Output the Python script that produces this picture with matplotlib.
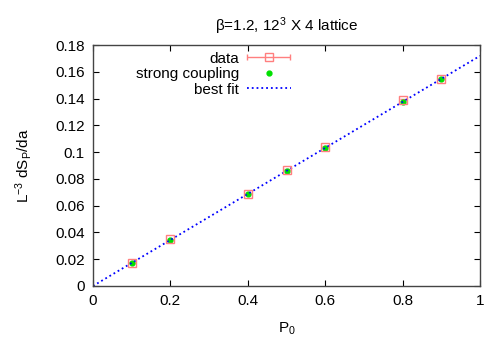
import numpy as np
import matplotlib
matplotlib.use("Agg")
import matplotlib.pyplot as plt
from matplotlib.legend_handler import HandlerErrorbar
from matplotlib.ticker import FuncFormatter

plt.rcParams['font.family'] = ['Liberation Sans', 'DejaVu Sans']
plt.rcParams['mathtext.fontset'] = 'custom'
plt.rcParams['mathtext.rm'] = 'Liberation Sans'
plt.rcParams['mathtext.it'] = 'Liberation Sans:italic'

# data
p0 = [0.1, 0.2, 0.4, 0.5, 0.6, 0.8, 0.9]
ds_data = [0.0175, 0.0350, 0.0690, 0.0870, 0.1040, 0.1390, 0.1550]
ds_err = [0.0004, 0.0004, 0.0004, 0.0005, 0.0005, 0.0006, 0.0006]
ds_strong = [0.0170, 0.0342, 0.0688, 0.0860, 0.1030, 0.1372, 0.1545]
fit_slope = 0.172
fit_x = [0.0, 1.0]

fig = plt.figure(figsize=(5, 3.5), dpi=100)
ax = fig.add_axes([0.186, 0.183, 0.774, 0.688])

red = '#ff7f7f'
green = '#00e000'

ax.errorbar(p0, ds_data, yerr=ds_err, fmt='s', mfc='none', mec=red, ecolor=red,
            ms=6, mew=1.0, elinewidth=1.0, capsize=2)
ax.plot(p0, ds_strong, 'o', color=green, ms=3.5, mec=green)
ax.plot(fit_x, [fit_slope * x for x in fit_x], ':', color='blue', lw=1.3)

# legend proxies (gnuplot style: horizontal error bar in key)
h_data = ax.errorbar([np.nan], [np.nan], xerr=[1], fmt='s', mfc='none', mec=red,
                     ecolor=red, ms=6, mew=1.0, elinewidth=1.0, capsize=2)
h_strong, = ax.plot([np.nan], [np.nan], 'o', color=green, ms=3.5, mec=green)
h_fit, = ax.plot([np.nan], [np.nan], ':', color='blue', lw=1.3)
ax.legend([h_data, h_strong, h_fit], ['data', 'strong coupling', 'best fit'],
          loc='upper left', bbox_to_anchor=(0.083, 1.017), markerfirst=False,
          frameon=False, fontsize=11, handlelength=2.9, handletextpad=0.5,
          labelspacing=0.1, borderaxespad=0.3,
          handler_map={type(h_data): HandlerErrorbar(xerr_size=1.4)})

ax.set_xlim(0, 1)
ax.set_ylim(0, 0.18)
ax.set_xticks(np.arange(0, 1.01, 0.2))
ax.set_yticks(np.arange(0, 0.181, 0.02))
ax.xaxis.set_major_formatter(FuncFormatter(lambda v, p: '%g' % round(v, 3)))
ax.yaxis.set_major_formatter(FuncFormatter(lambda v, p: '%g' % round(v, 3)))
ax.tick_params(direction='in', top=True, right=True, length=4.5, width=0.8,
               labelsize=11, pad=6)
for s in ax.spines.values():
    s.set_linewidth(1.0)
    s.set_color('#444444')

ax.set_xlabel(r'P$_\mathrm{0}$', fontsize=11, labelpad=9)
ax.set_ylabel(r'L$^\mathrm{-3}$ dS$_\mathrm{P}$/da', fontsize=11, labelpad=15)
ax.set_title(r'β=1.2, 12$^\mathrm{3}$ X 4 lattice', fontsize=11, pad=10)

fig.savefig('out.png', dpi=100)
